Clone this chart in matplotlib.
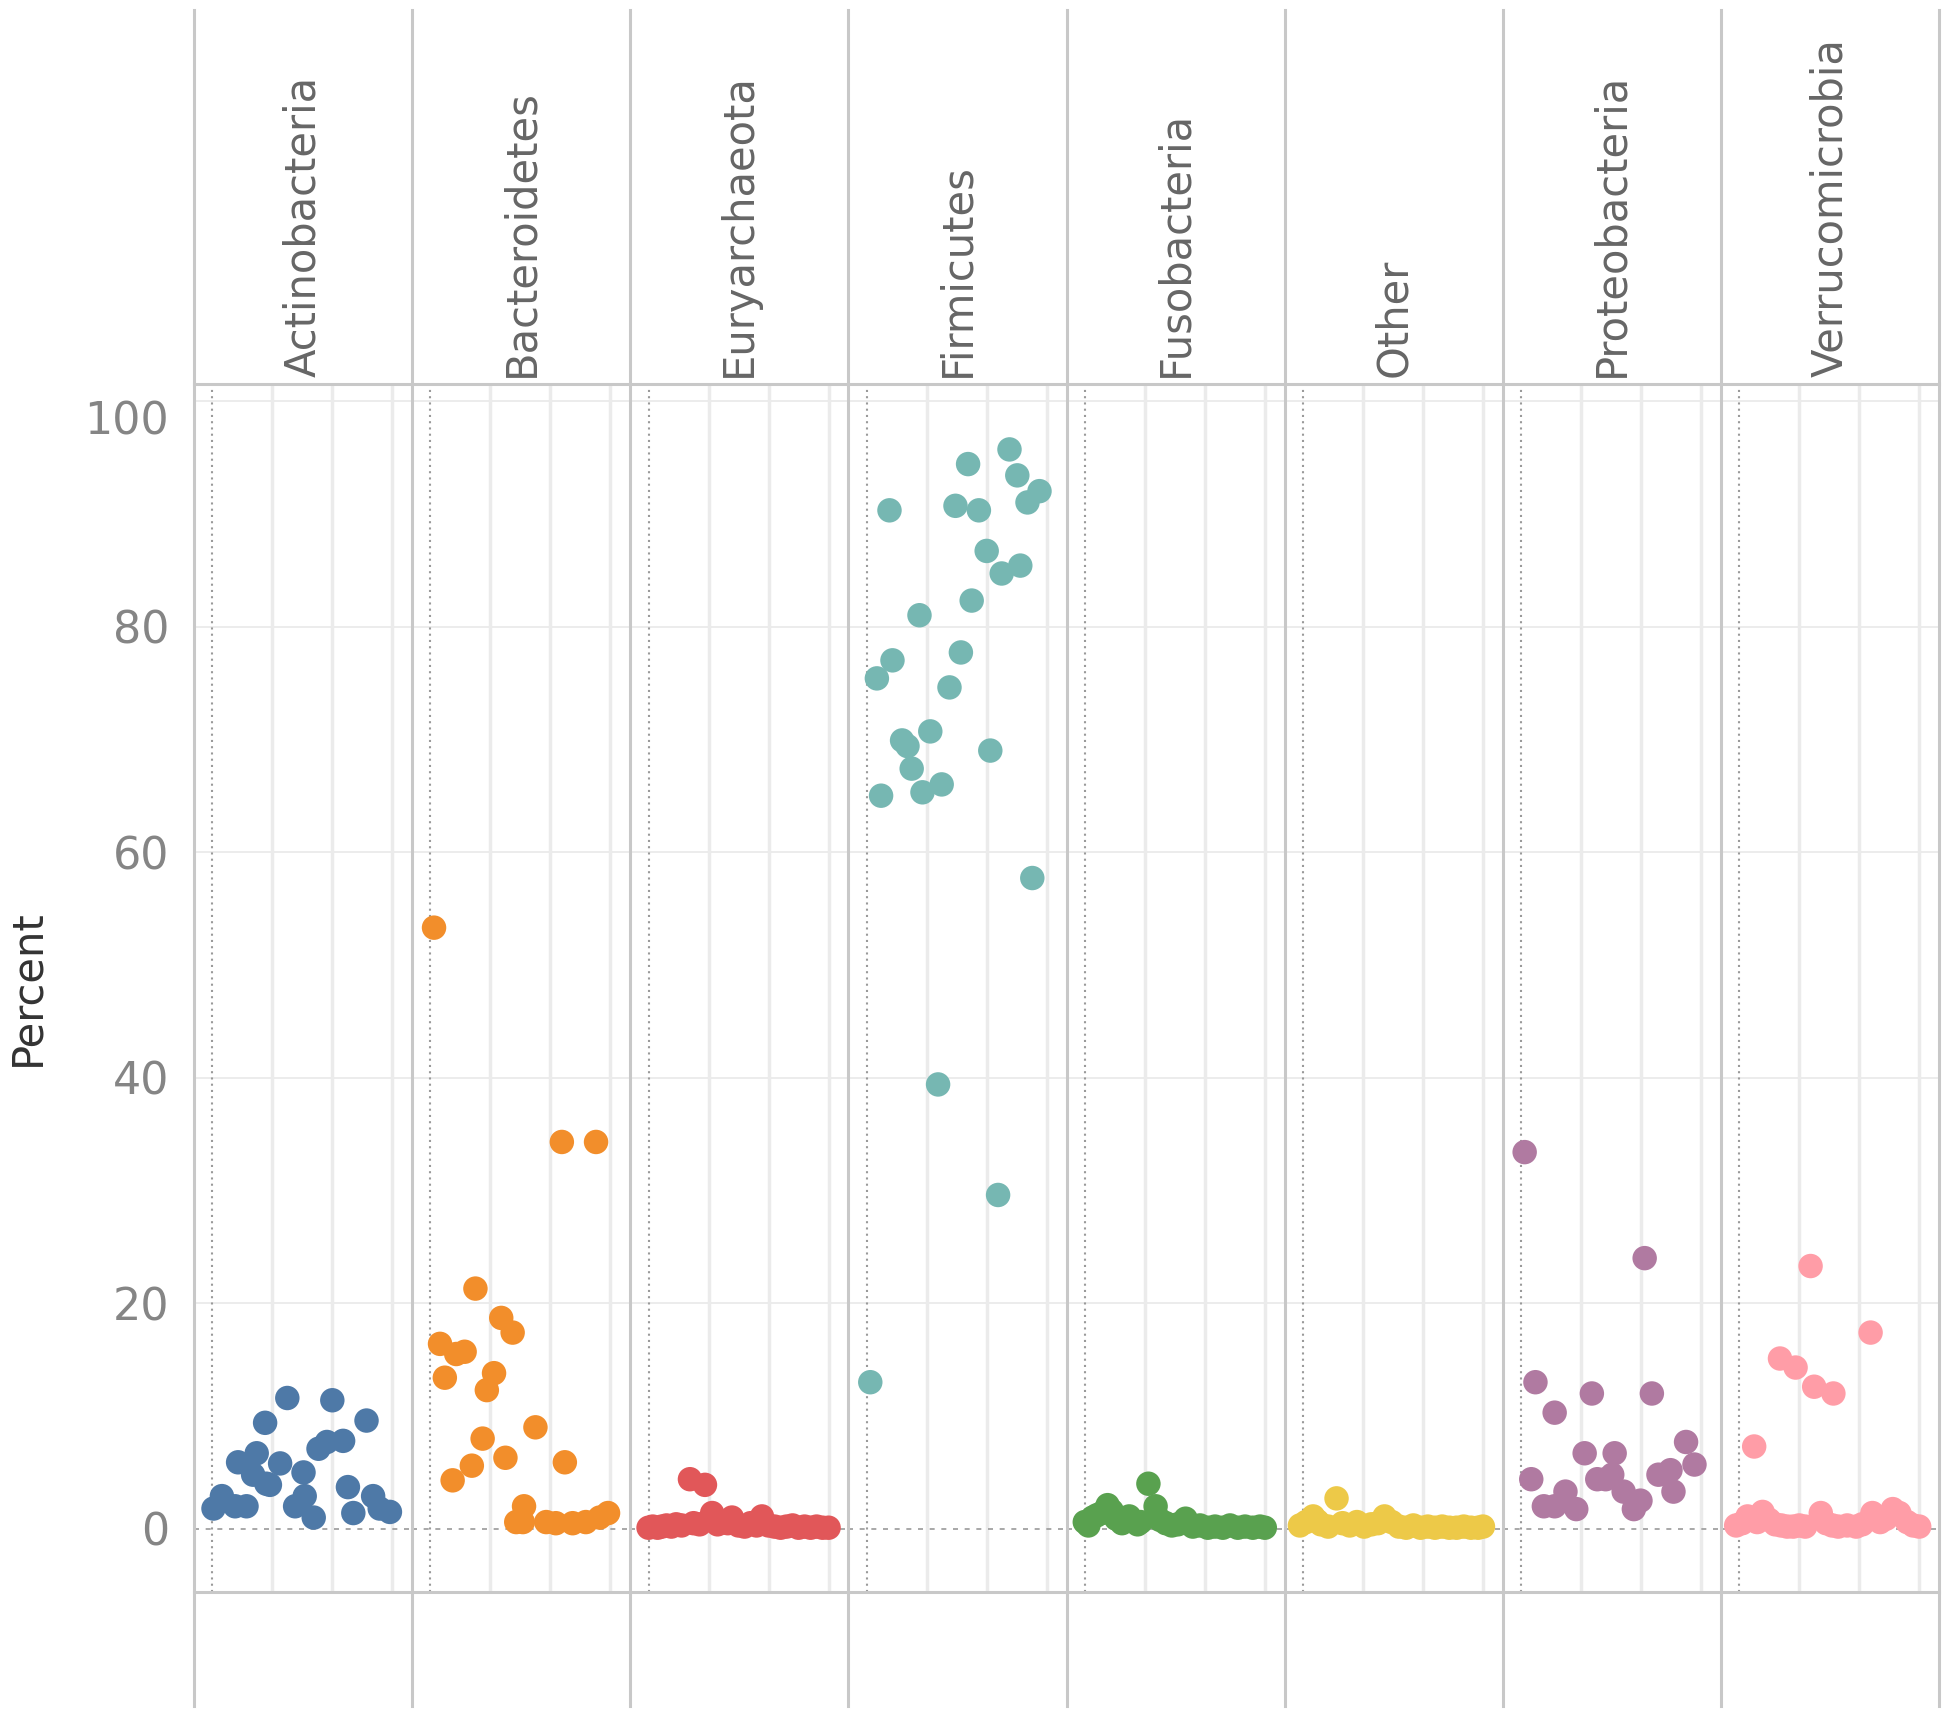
import matplotlib
matplotlib.use('Agg')
import matplotlib.pyplot as plt
from matplotlib.lines import Line2D

# phyla shown as columns
phyla = ['Actinobacteria', 'Bacteroidetes', 'Euryarchaeota', 'Firmicutes',
         'Fusobacteria', 'Other', 'Proteobacteria', 'Verrucomicrobia']
colors = ['#4E79A7', '#F28E2B', '#E15759', '#76B7B2',
          '#59A14F', '#EDC948', '#B07AA1', '#FF9DA7']

# jitter position (x) and percent (y) for each phylum
actino_x = [0.02, 0.16, 0.38, 0.57, 0.43, 0.74, 0.88, 0.68, 0.96, 0.90, 1.13, 1.25, 1.38,
            1.54, 1.52, 1.69, 1.77, 1.91, 2.00, 2.18, 2.26, 2.35, 2.57, 2.68, 2.79, 2.96]
actino_y = [1.8, 2.9, 2.0, 2.0, 5.9, 6.7, 9.4, 4.8, 3.9, 4.0, 5.8, 11.6, 2.0,
            2.9, 5.0, 1.0, 7.1, 7.7, 11.4, 7.8, 3.7, 1.4, 9.6, 2.9, 1.8, 1.5]

bacter_x = [0.06, 0.16, 0.24, 0.43, 0.57, 0.75, 0.37, 0.69, 0.87, 0.94, 1.06, 1.18, 1.37, 1.25,
            1.56, 1.54, 1.43, 1.75, 1.93, 2.09, 2.19, 2.24, 2.37, 2.59, 2.76, 2.82, 2.96]
bacter_y = [53.3, 16.4, 13.4, 15.5, 15.7, 21.3, 4.3, 5.6, 8.0, 12.3, 13.8, 18.7, 17.4, 6.3,
            2.0, 0.6, 0.6, 9.0, 0.6, 0.5, 34.3, 5.9, 0.5, 0.6, 34.3, 1.0, 1.4]

eury_x = [0.0, 0.07, 0.15, 0.22, 0.3, 0.38, 0.46, 0.55, 0.69, 0.75, 0.85, 0.94, 1.06, 1.15, 1.25,
          1.32, 1.39, 1.5, 1.6, 1.7, 1.8, 1.89, 2.0, 2.1, 2.2, 2.3, 2.4, 2.5, 2.6, 2.7, 2.8, 2.9, 3.0]
eury_y = [0.1, 0.2, 0.1, 0.2, 0.3, 0.2, 0.4, 0.3, 4.4, 0.5, 0.4, 3.9, 1.4, 0.4, 0.6,
          0.5, 1.0, 0.3, 0.2, 0.5, 0.3, 1.1, 0.3, 0.2, 0.1, 0.2, 0.3, 0.1, 0.2, 0.1, 0.2, 0.1, 0.1]

firm_x = [0.06, 0.24, 0.17, 0.38, 0.43, 0.59, 0.68, 0.75, 0.88, 0.93, 1.06, 1.19, 1.25, 1.38, 1.48,
          1.57, 1.69, 1.75, 1.87, 2.00, 2.06, 2.19, 2.25, 2.38, 2.51, 2.56, 2.68, 2.76, 2.88]
firm_y = [13.0, 65.0, 75.4, 90.3, 77.0, 69.9, 69.4, 67.4, 81.0, 65.3, 70.7, 39.4, 66.0, 74.6, 90.7,
          77.7, 94.4, 82.3, 90.3, 86.7, 69.0, 29.6, 84.7, 95.7, 93.4, 85.4, 91.0, 57.7, 92.0]

fuso_x = [0.0, 0.06, 0.13, 0.2, 0.28, 0.38, 0.45, 0.52, 0.62, 0.74, 0.8, 0.88, 0.93, 1.06, 1.18,
          1.25, 1.35, 1.45, 1.55, 1.68, 1.8, 1.92, 2.05, 2.17, 2.3, 2.42, 2.55, 2.67, 2.8, 2.92, 3.0]
fuso_y = [0.6, 0.3, 1.0, 1.2, 1.4, 2.1, 1.6, 0.9, 0.5, 1.1, 0.7, 0.4, 0.6, 4.0, 2.0,
          0.8, 0.5, 0.3, 0.4, 0.9, 0.2, 0.3, 0.1, 0.2, 0.1, 0.3, 0.1, 0.2, 0.1, 0.2, 0.1]

other_x = [-0.05, 0.05, 0.17, 0.24, 0.3, 0.42, 0.56, 0.66, 0.78, 0.9, 1.02, 1.14, 1.25, 1.36, 1.48,
           1.6, 1.72, 1.84, 1.96, 2.08, 2.2, 2.32, 2.44, 2.56, 2.68, 2.8, 2.92, 3.0]
other_y = [0.3, 0.6, 1.1, 0.7, 0.4, 0.2, 2.7, 0.5, 0.3, 0.6, 0.2, 0.4, 0.5, 1.1, 0.6,
           0.2, 0.1, 0.3, 0.1, 0.2, 0.1, 0.2, 0.1, 0.1, 0.2, 0.1, 0.1, 0.2]

proteo_x = [0.06, 0.24, 0.17, 0.38, 0.56, 0.74, 0.92, 1.06, 1.18, 1.27, 1.52, 1.56,
            1.71, 1.88, 2.06, 2.18, 2.29, 2.54, 2.49, 2.75, 2.89, 1.99, 0.56, 1.41]
proteo_y = [33.4, 13.0, 4.4, 2.0, 10.3, 3.3, 1.75, 6.7, 12.0, 4.4, 4.8, 6.7,
            3.3, 1.75, 24.0, 12.0, 4.8, 3.3, 5.2, 7.7, 5.7, 2.5, 2.0, 4.4]

verru_x = [0.25, 0.68, 0.94, 1.19, 1.25, 1.57, 2.19,
           -0.05, 0.05, 0.14, 0.22, 0.3, 0.39, 0.5, 0.6, 0.7, 0.8, 0.9, 1.0, 1.1, 1.36, 1.45,
           1.55, 1.65, 1.8, 1.95, 2.05, 2.22, 2.35, 2.45, 2.56, 2.67, 2.8, 2.9, 3.0]
verru_y = [7.3, 15.1, 14.3, 23.3, 12.6, 12.0, 17.4,
           0.3, 0.5, 1.1, 0.8, 0.6, 1.5, 0.8, 0.4, 0.3, 0.2, 0.2, 0.3, 0.2, 1.4, 0.5,
           0.3, 0.2, 0.3, 0.2, 0.4, 1.4, 0.6, 0.9, 1.75, 1.4, 0.6, 0.3, 0.2]

xs = [actino_x, bacter_x, eury_x, firm_x, fuso_x, other_x, proteo_x, verru_x]
ys = [actino_y, bacter_y, eury_y, firm_y, fuso_y, other_y, proteo_y, verru_y]

W, H = 1950, 1718
fig = plt.figure(figsize=(W / 100, H / 100), dpi=100)

left, right = 194, 1939
top, bottom = 384, 1592
pw = (right - left) / len(phyla)
sep_col = '#c8c8c8'
grid_col = '#ebebeb'

for i, name in enumerate(phyla):
    ax = fig.add_axes([(left + i * pw) / W, 1 - bottom / H, pw / W, (bottom - top) / H])
    ax.set_xlim(-0.305, 3.33)
    ax.set_ylim(-5.6, 101.5)
    for v in [20, 40, 60, 80, 100]:
        ax.axhline(v, color=grid_col, lw=1.3, zorder=0)
    for v in [1, 2, 3]:
        ax.axvline(v, color=grid_col, lw=2.5, zorder=0)
    ax.axhline(0, color='#9a9a9a', lw=1.2, ls=(0, (3, 4)), zorder=1)
    ax.axvline(0, color='#9a9a9a', lw=1.5, ls=(0, (1, 2)), zorder=1)
    ax.scatter(xs[i], ys[i], s=310, color=colors[i], edgecolors='none', zorder=3)
    for s in ax.spines.values():
        s.set_visible(False)
    ax.set_xticks([])
    ax.set_yticks([0, 20, 40, 60, 80, 100])
    ax.tick_params(axis='y', length=0, pad=18, labelsize=32, labelcolor='#858585')
    if i > 0:
        ax.set_yticklabels([])
    else:
        ax.yaxis.get_major_ticks()[-1].label1.set_verticalalignment('top')
        ax.set_ylabel('Percent', fontsize=30, color='#333333', labelpad=26)
    # column header
    fig.text((left + (i + 0.5) * pw) / W, 1 - 377 / H, name, rotation=90,
             ha='center', va='bottom', fontsize=30, color='#666666')

# panel separators and header / footer lines
for i in range(len(phyla) + 1):
    x = (left + i * pw) / W
    fig.add_artist(Line2D([x, x], [1 - 10 / H, 1 - 1706 / H], color=sep_col, lw=2.2))
for y in [top, bottom]:
    fig.add_artist(Line2D([left / W, right / W], [1 - y / H, 1 - y / H], color=sep_col, lw=2.2))

fig.savefig('out.png', dpi=100)
